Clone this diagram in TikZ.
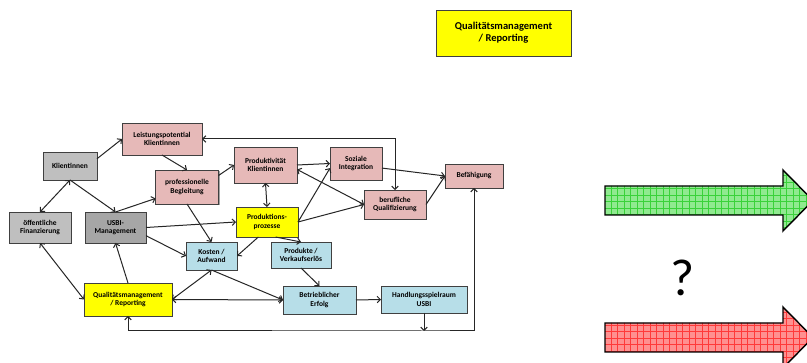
\documentclass[tikz,border=0pt]{standalone}
\usepackage{fontspec}
\setmainfont{Carlito}
\usetikzlibrary{positioning}
\usetikzlibrary{arrows.meta}
\usetikzlibrary{shadows}

\definecolor{rosa}{HTML}{E6B9B8}
\definecolor{grauhell}{HTML}{BFBFBF}
\definecolor{graudunkel}{HTML}{A6A6A6}
\definecolor{gelb}{HTML}{FFFF00}
\definecolor{hellblau}{HTML}{B7DEE8}
\definecolor{gruenfill}{HTML}{90EA90}
\definecolor{gruenlinie}{HTML}{3AD23A}
\definecolor{rotfill}{HTML}{FF9090}
\definecolor{rotlinie}{HTML}{FF3A3A}

\tikzset{
	box/.style={draw=black!75, line width=0.8pt, align=center, inner sep=1pt, outer sep=0pt,
		font=\bfseries\fontsize{7.5}{8.5}\selectfont,
		drop shadow={shadow xshift=1.2pt, shadow yshift=-1.2pt, fill=black!45, opacity=0.8}},
	pfeil/.style={line width=1pt, draw=black!85, >={Straight Barb[length=3.2pt,width=6.5pt]}},
}

\begin{document}
\begin{tikzpicture}[x=1pt, y=-1pt]
			\clip (0,0) rectangle (807,363);
			\fill[white] (0,0) rectangle (807,363);

			% oben
			\node[box, fill=gelb, minimum width=135pt, minimum height=46pt, drop shadow={opacity=0}, font=\bfseries\fontsize{10.5}{12}\selectfont] (qmtop) at (503.5,33) {Qualitätsmanagement\\/ Reporting};

			% Knoten
			\node[box, fill=rosa, minimum width=80pt, minimum height=32pt] (leist) at (162,139) {Leistungspotential\\Klientinnen};
			\node[box, fill=grauhell, minimum width=54pt, minimum height=28pt] (klient) at (70,166) {Klientinnen};
			\node[box, fill=rosa, minimum width=63pt, minimum height=34pt] (begl) at (187,187) {professionelle\\Begleitung};
			\node[box, fill=rosa, minimum width=63pt, minimum height=36pt] (prodkt) at (265.5,165) {Produktivität\\Klientinnen};
			\node[box, fill=rosa, minimum width=52pt, minimum height=33pt] (soz) at (356,163.5) {Soziale\\Integration};
			\node[box, fill=rosa, minimum width=58pt, minimum height=24pt] (bef) at (474,176) {Befähigung};
			\node[box, fill=rosa, minimum width=62pt, minimum height=29pt] (beruf) at (395,204.5) {berufliche\\Qualifizierung};
			\node[box, fill=grauhell, minimum width=62pt, minimum height=31pt] (oeff) at (40,227.5) {öffentliche\\Finanzierung};
			\node[box, fill=graudunkel, minimum width=61pt, minimum height=31pt] (usbi) at (115.5,227.5) {USBI-\\Management};
			\node[box, fill=gelb, minimum width=62pt, minimum height=30pt] (prodproz) at (267,222) {Produktions-\\prozesse};
			\node[box, fill=hellblau, minimum width=51pt, minimum height=28pt] (kosten) at (211.5,256) {Kosten /\\Aufwand};
			\node[box, fill=hellblau, minimum width=60pt, minimum height=26pt] (produkte) at (301,255) {Produkte /\\Verkaufserlös};
			\node[box, fill=gelb, minimum width=88pt, minimum height=33pt] (qmb) at (128,299.5) {Qualitätsmanagement\\/ Reporting};
			\node[box, fill=hellblau, minimum width=73pt, minimum height=28pt] (betr) at (319.5,300) {Betrieblicher\\Erfolg};
			\node[box, fill=hellblau, minimum width=86pt, minimum height=27pt] (hsp) at (424,299.5) {Handlungsspielraum\\USBI};
			\coordinate (bus) at (424,331);

			% Verbindungen
			\draw[pfeil, ->] (klient.15) -- (leist.west);
			\draw[pfeil, <->] (klient.south) -- (oeff.north);
			\draw[pfeil, ->] (klient.south) -- (usbi.north);
			\draw[pfeil, ->] (usbi.north) -- (begl.-160);
			\draw[pfeil, ->] (leist.south) -- (begl.north);
			\draw[pfeil, ->] (begl.20) -- (prodkt.west);
			\draw[pfeil, ->] (begl.south) -- (kosten.north);
			\draw[pfeil, ->] (usbi.east) -- (prodproz.west);
			\draw[pfeil, ->] (usbi.-15) -- (kosten.west);
			\draw[pfeil, <->] (prodkt.south) -- (prodproz.north);
			\draw[pfeil, ->] (prodkt.east) -- (soz.west);
			\draw[pfeil, <->] (prodkt.-8) -- (beruf.west);
			\draw[pfeil, ->] (prodproz.east) -- (soz.-170);
			\draw[pfeil, ->] (prodproz.east) -- (beruf.west);
			\draw[pfeil, ->] (soz.-10) -- (bef.west);
			\draw[pfeil, ->] (beruf.east) -- (bef.west);
			\draw[pfeil, <->] (leist.east) -| (beruf.north);
			\draw[pfeil, ->] (prodproz.-120) -- (kosten.east);
			\draw[pfeil, ->] (prodproz.-60) -- (produkte.north);
			\draw[pfeil, ->] (produkte.south) -- (betr.north);
			\draw[pfeil, <->] (kosten.south) -- (qmb.east);
			\draw[pfeil, ->] (kosten.south) -- (betr.west);
			\draw[pfeil, <->] (qmb.east) -- (betr.west);
			\draw[pfeil, ->] (betr.east) -- (hsp.west);
			\draw[pfeil, ->] (hsp.south) -- (bus);
			\draw[pfeil, <->] (qmb.south) |- (bus) -| (bef.south);
			\draw[pfeil, ->] (qmb.north) -- (usbi.south);
			\draw[pfeil, <->] (qmb.west) -- (oeff.south);

			% Pfeile rechts
			\begin{scope}
				\clip (605,186) -- (783,186) -- (783,170) -- (813,200.5) -- (783,231) -- (783,215) -- (605,215) -- cycle;
				\fill[gruenfill] (600,160) rectangle (820,240);
				\draw[gruenlinie, line width=0.3pt, step=6.5pt] (600,160) grid (820,240);
			\end{scope}
			\draw[line width=1.4pt, line join=miter] (605,186) -- (783,186) -- (783,170) -- (813,200.5) -- (783,231) -- (783,215) -- (605,215) -- cycle;

			\begin{scope}
				\clip (605,323) -- (783,323) -- (783,307) -- (813,337.5) -- (783,368) -- (783,352) -- (605,352) -- cycle;
				\fill[rotfill] (600,300) rectangle (820,370);
				\draw[rotlinie, line width=0.3pt, step=6.5pt] (600,300) grid (820,370);
			\end{scope}
			\draw[line width=1.4pt, line join=miter] (605,323) -- (783,323) -- (783,307) -- (813,337.5) -- (783,368) -- (783,352) -- (605,352) -- cycle;

			\node[font=\fontsize{52}{56}\selectfont] (frage) at (683,278) {?};
		\end{tikzpicture}
\end{document}
